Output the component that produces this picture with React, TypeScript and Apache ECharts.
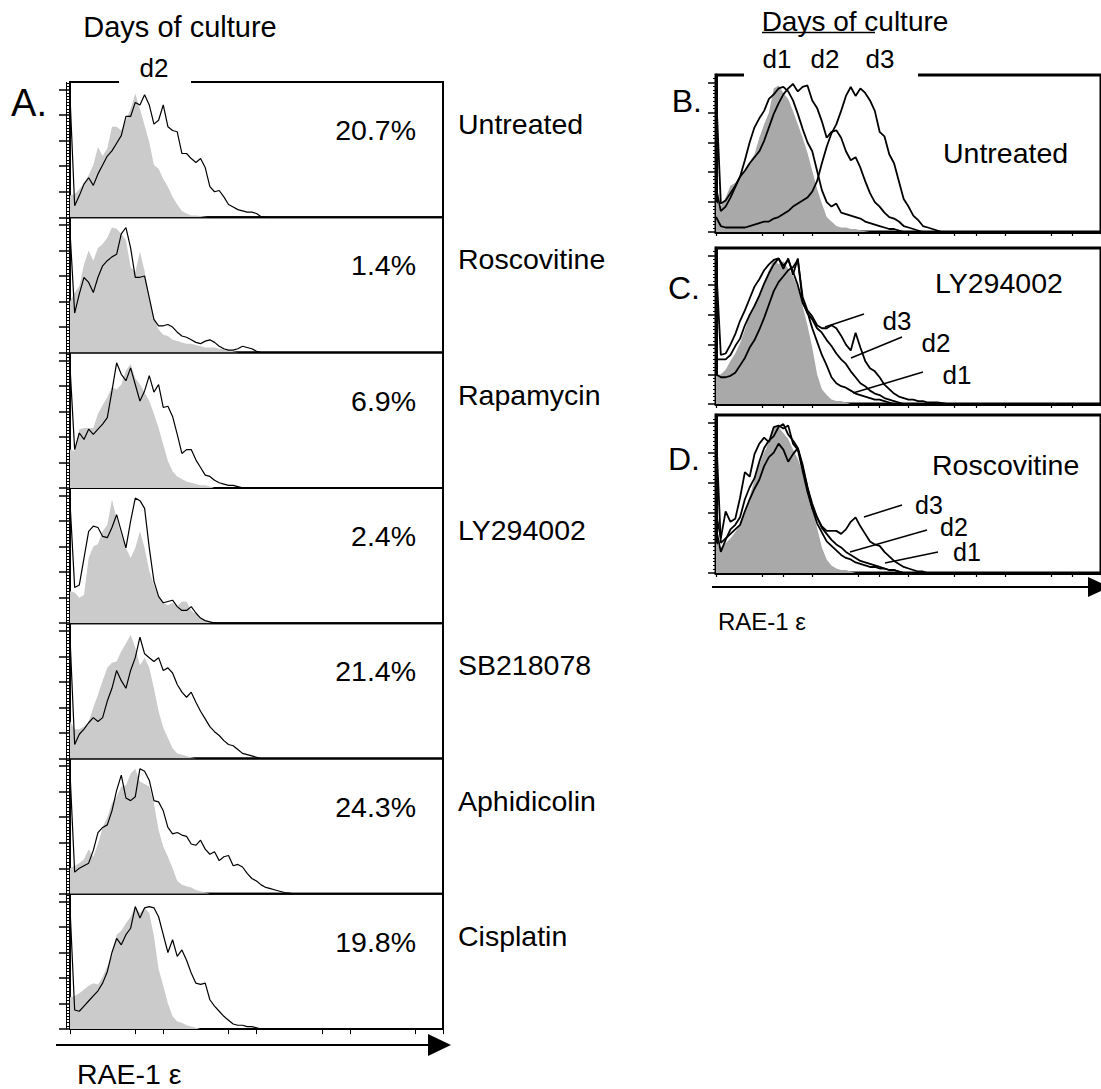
import React, { useEffect, useRef } from "react";
import * as echarts from "echarts";

// ---------- data ----------
const STEP = 0.05; // channel width in decades (log10 units)
const Y_TICKS = [0, 20, 40, 60, 80, 100];
const X_TICKS_A = [0, 0.7, 1, 1.7, 2, 2.7, 3, 3.7, 4];
const X_TICKS_R = [0, 0.48, 0.7, 1, 1.48, 1.7, 2, 2.48, 2.7, 3, 3.48, 3.7, 4];

const A_LABELS = ["Untreated", "Roscovitine", "Rapamycin", "LY294002", "SB218078", "Aphidicolin", "Cisplatin"];
const A_PERCENTS = ["20.7%", "1.4%", "6.9%", "2.4%", "21.4%", "24.3%", "19.8%"];

const untreatedBlack = [95, 9, 17, 26, 31, 25, 34, 41, 48, 52, 58, 64, 79, 79, 90, 88, 96, 88, 73, 76, 88, 71, 68, 67, 50, 50, 46, 43, 46, 39, 24, 20, 21, 16, 10, 8, 6, 5, 4, 4, 3, 0.5, 0];
const untreatedGray = [17, 18, 22, 27, 33, 41, 55, 48, 54, 71, 71, 68, 76, 85, 97, 85, 72, 59, 41, 38, 30, 24, 16, 10, 5, 3, 1.5, 1.5, 1, 0.5, 0];
const roscovitineBlack = [95, 31, 46, 59, 55, 47, 59, 68, 72, 75, 77, 93, 98, 82, 59, 59, 60, 43, 26, 21, 21, 22, 20, 16, 13, 12, 10, 8, 7, 9, 10, 8, 5, 3, 2, 2, 3, 5, 4, 3, 1, 0];
const roscovitineGray = [40, 47, 52, 69, 80, 72, 82, 85, 90, 98, 97, 93, 88, 67, 63, 79, 64, 43, 27, 18, 14, 13, 10, 9, 8, 7, 7, 6, 5, 4, 4, 4, 3, 3, 2, 1, 0];
const rapamycinBlack = [95, 30, 43, 38, 46, 42, 46, 50, 55, 76, 98, 89, 84, 94, 81, 68, 76, 88, 75, 81, 63, 64, 56, 42, 27, 30, 30, 22, 16, 10, 9, 6, 4, 3, 2, 2, 1, 0];
const rapamycinGray = [30, 29, 46, 47, 47, 47, 58, 65, 71, 79, 77, 81, 92, 97, 86, 81, 75, 68, 58, 47, 34, 21, 13, 9, 7, 5, 4, 3, 2, 2, 1, 0];
const lyBlack = [95, 28, 30, 51, 72, 76, 75, 68, 67, 75, 85, 72, 59, 80, 98, 96, 90, 59, 33, 21, 16, 17, 18, 13, 10, 10, 13, 8, 4, 2, 1, 0];
const lyGray = [25, 24, 20, 22, 51, 60, 62, 72, 77, 97, 82, 69, 59, 51, 59, 72, 59, 41, 30, 21, 16, 14, 16, 13, 17, 17, 10, 7, 4, 2, 1, 0];
const sbBlack = [95, 11, 19, 23, 28, 32, 29, 32, 45, 55, 69, 61, 55, 69, 79, 95, 82, 79, 76, 79, 69, 71, 67, 58, 52, 48, 52, 44, 37, 31, 25, 21, 18, 14, 11, 10, 7, 4, 3, 2, 1, 0];
const sbGray = [29, 23, 23, 25, 29, 40, 50, 61, 71, 75, 76, 84, 90, 97, 87, 73, 79, 71, 55, 37, 24, 16, 8, 4, 3, 2, 1, 0];
const aphidicolinBlack = [95, 17, 20, 22, 24, 34, 48, 52, 54, 65, 81, 93, 75, 73, 76, 98, 96, 89, 73, 72, 65, 52, 47, 48, 46, 45, 39, 38, 42, 35, 31, 33, 26, 29, 30, 22, 23, 21, 16, 12, 10, 7, 5, 4, 3, 2, 1, 0.5, 0];
const aphidicolinGray = [20, 22, 24, 27, 35, 29, 39, 52, 60, 71, 76, 84, 85, 94, 98, 88, 86, 84, 71, 50, 37, 29, 20, 10, 7, 6, 5, 3, 2, 1, 0];
const cisplatinBlack = [95, 15, 14, 18, 22, 26, 30, 36, 45, 60, 71, 66, 74, 79, 96, 87, 95, 96, 95, 88, 74, 60, 70, 57, 62, 54, 44, 36, 35, 36, 23, 18, 14, 10, 7, 4, 3, 3, 2, 2, 1, 0];
const cisplatinGray = [25, 26, 28, 31, 34, 36, 35, 41, 49, 57, 74, 77, 83, 88, 96, 91, 95, 91, 73, 47, 34, 20, 10, 6, 5, 3, 2, 1, 0];

const A_BLACK = [untreatedBlack, roscovitineBlack, rapamycinBlack, lyBlack, sbBlack, aphidicolinBlack, cisplatinBlack];
const A_GRAY = [untreatedGray, roscovitineGray, rapamycinGray, lyGray, sbGray, aphidicolinGray, cisplatinGray];

const R_LABELS = ["Untreated", "LY294002", "Roscovitine"];
const R_LETTERS = ["B.", "C.", "D."];
const DAY_NAMES = ["d1", "d2", "d3"];

const bGray = [20, 17, 23, 31, 33, 37, 41, 47, 52, 63, 72, 80, 96, 98, 93, 89, 81, 72, 63, 53, 41, 29, 19, 10, 7, 4, 3, 3, 2, 2, 1, 0.5, 0];
const bD1 = [95, 19, 21, 26, 31, 37, 48, 60, 70, 76, 81, 89, 92, 96, 97, 94, 88, 79, 69, 60, 54, 41, 28, 20, 17, 19, 13, 12, 11, 10, 9, 7, 6, 5, 4, 3, 2, 2, 1, 0];
const bD2 = [30, 14, 17, 23, 30, 37, 41, 46, 50, 54, 61, 70, 79, 86, 92, 96, 99, 94, 97, 98, 88, 83, 74, 63, 67, 68, 63, 54, 48, 50, 43, 34, 26, 20, 17, 13, 10, 9, 7, 4, 3, 2, 1, 0];
const bD3 = [10, 4, 3, 3, 3, 3, 3, 4, 5, 6, 7, 7, 9, 10, 12, 14, 17, 19, 21, 23, 27, 34, 46, 57, 66, 72, 81, 91, 97, 91, 96, 93, 88, 81, 67, 64, 52, 46, 34, 22, 17, 11, 8, 4, 3, 2, 1, 0];

const cGray = [19, 20, 23, 29, 34, 41, 50, 60, 67, 74, 82, 90, 98, 94, 96, 91, 86, 78, 66, 53, 38, 20, 10, 6, 3, 2, 2, 1, 0];
const cD1 = [95, 33, 34, 40, 47, 56, 63, 71, 79, 84, 90, 94, 97, 98, 93, 97, 89, 80, 68, 62, 51, 42, 33, 26, 18, 14, 12, 11, 9, 7, 6, 5, 4, 3, 3, 2, 1, 0];
const cD2 = [30, 30, 30, 33, 39, 44, 53, 60, 66, 73, 81, 88, 94, 98, 91, 98, 87, 98, 69, 61, 57, 51, 48, 43, 39, 34, 30, 27, 22, 18, 14, 12, 9, 7, 6, 4, 3, 2, 1, 0];
const cD3 = [20, 18, 18, 19, 21, 26, 31, 38, 43, 50, 58, 67, 76, 82, 86, 90, 92, 97, 72, 63, 59, 53, 51, 51, 53, 51, 46, 40, 36, 48, 38, 29, 24, 22, 18, 13, 10, 7, 5, 4, 3, 3, 2, 2, 1, 1, 1, 0.5, 0];

const dGray = [20, 17, 20, 23, 27, 32, 40, 51, 62, 72, 80, 87, 97, 97, 93, 89, 82, 76, 67, 56, 43, 30, 17, 9, 5, 3, 2, 2, 1, 0];
const dD1 = [95, 20, 23, 26, 29, 32, 41, 49, 56, 62, 71, 77, 80, 86, 82, 74, 79, 83, 70, 57, 43, 33, 27, 21, 18, 15, 12, 10, 9, 7, 6, 5, 4, 4, 3, 3, 2, 2, 1, 0];
const dD2 = [30, 14, 22, 29, 32, 37, 49, 57, 63, 74, 83, 88, 91, 97, 99, 92, 88, 83, 72, 57, 46, 37, 30, 26, 22, 19, 17, 14, 12, 10, 8, 7, 6, 5, 4, 3, 2, 2, 1, 0];
const dD3 = [40, 23, 41, 34, 36, 50, 67, 64, 79, 86, 90, 87, 97, 98, 96, 98, 86, 82, 68, 54, 43, 37, 31, 28, 28, 28, 26, 29, 34, 37, 31, 26, 21, 19, 18, 14, 11, 8, 6, 4, 3, 2, 1, 1, 0];

const R_GRAY = [bGray, cGray, dGray];
const R_DAYS = [
  [bD1, bD2, bD3],
  [cD1, cD2, cD3],
  [dD1, dD2, dD3],
];

// ---------- layout ----------
const FONT = '"Liberation Sans", Arial, Helvetica, sans-serif';
const A_LEFT = 70;
const A_WIDTH = 373;
const A_TOP = 82;
const A_H = 135.3;
const R_LEFT = 716;
const R_WIDTH = 388;
const R_TOPS = [75, 248, 415];
const R_HS = [157, 156, 158];

const toXY = (arr: number[]) => arr.map((v, k) => [k * STEP, v]);

function txt(x: number, y: number, s: string, size: number, align = "left") {
  return {
    type: "text",
    x,
    y,
    z: 100,
    silent: true,
    style: {
      text: s,
      font: `${size}px ${FONT}`,
      fill: "#000",
      textAlign: align,
      textVerticalAlign: "middle",
      align,
      verticalAlign: "middle",
    },
  };
}

function seg(x1: number, y1: number, x2: number, y2: number, w: number) {
  return {
    type: "line",
    z: 100,
    silent: true,
    shape: { x1, y1, x2, y2 },
    style: { stroke: "#000", lineWidth: w },
  };
}

function buildOption() {
  const grid: any[] = [];
  const xAxis: any[] = [];
  const yAxis: any[] = [];
  const series: any[] = [];
  const graphic: any[] = [];

  // Panel A
  for (let i = 0; i < 7; i++) {
    const top = A_TOP + i * A_H;
    grid.push({ left: A_LEFT, top, width: A_WIDTH, height: A_H, show: true, borderColor: "#000", borderWidth: 2, backgroundColor: "transparent" });
    xAxis.push({
      gridIndex: i, type: "value", min: 0, max: 4,
      axisLine: { show: false },
      axisTick: i === 6 ? { show: true, customValues: X_TICKS_A, length: 5, lineStyle: { color: "#000", width: 1 } } : { show: false },
      axisLabel: { show: false }, splitLine: { show: false },
    });
    yAxis.push({
      gridIndex: i, type: "value", min: 0, max: 106, interval: 20,
      axisLine: { show: true, lineStyle: { color: "#000", width: 2 } },
      axisTick: { show: true, customValues: Y_TICKS, length: 11, lineStyle: { color: "#000", width: 1.5 } },
      minorTick: { show: true, splitNumber: 8, length: 4, lineStyle: { color: "#000", width: 1 } },
      axisLabel: { show: false }, splitLine: { show: false },
    });
    series.push({
      type: "line", xAxisIndex: i, yAxisIndex: i, data: toXY(A_GRAY[i]), symbol: "none", silent: true, z: 2,
      lineStyle: { width: 0, opacity: 0 }, areaStyle: { color: "#cbcbcb", opacity: 1 },
    });
    series.push({
      type: "line", xAxisIndex: i, yAxisIndex: i, data: toXY(A_BLACK[i]), symbol: "none", silent: true, z: 3,
      lineStyle: { color: "#000", width: 1.2 },
    });
    graphic.push(txt(416, top + 48, A_PERCENTS[i], 28.5, "right"));
    graphic.push(txt(458, top + 42, A_LABELS[i], 28.5, "left"));
  }

  // Panels B, C, D
  for (let j = 0; j < 3; j++) {
    const gi = 7 + j;
    grid.push({ left: R_LEFT, top: R_TOPS[j], width: R_WIDTH, height: R_HS[j], show: true, borderColor: "#000", borderWidth: 3, backgroundColor: "transparent" });
    xAxis.push({
      gridIndex: gi, type: "value", min: 0, max: 4,
      axisLine: { show: true, lineStyle: { color: "#000", width: 3 } },
      axisTick: { show: true, customValues: X_TICKS_R, length: 4, lineStyle: { color: "#000", width: 1.2 } },
      axisLabel: { show: false }, splitLine: { show: false },
    });
    yAxis.push({
      gridIndex: gi, type: "value", min: 0, max: 105, interval: 20,
      axisLine: { show: true, lineStyle: { color: "#000", width: 3 } },
      axisTick: { show: true, customValues: Y_TICKS, length: 8, lineStyle: { color: "#000", width: 1.5 } },
      minorTick: { show: true, splitNumber: 8, length: 3, lineStyle: { color: "#000", width: 1 } },
      axisLabel: { show: false }, splitLine: { show: false },
    });
    series.push({
      type: "line", xAxisIndex: gi, yAxisIndex: gi, data: toXY(R_GRAY[j]), symbol: "none", silent: true, z: 2,
      lineStyle: { width: 0, opacity: 0 }, areaStyle: { color: "#a9a9a9", opacity: 1 },
    });
    R_DAYS[j].forEach((d, k) => {
      series.push({
        type: "line", name: DAY_NAMES[k], xAxisIndex: gi, yAxisIndex: gi, data: toXY(d), symbol: "none", silent: true, z: 3,
        lineStyle: { color: "#000", width: 1.8 },
      });
    });
  }

  // gaps in the top frames for the day labels
  graphic.push({ type: "rect", z: 99, silent: true, shape: { x: 119, y: 78, width: 72, height: 8 }, style: { fill: "#fff" } });
  graphic.push({ type: "rect", z: 99, silent: true, shape: { x: 744, y: 71, width: 174, height: 9 }, style: { fill: "#fff" } });

  // Panel A decorations
  graphic.push(seg(66.5, A_TOP, 66.5, A_TOP + 7 * A_H, 1));
  graphic.push(txt(180, 27, "Days of culture", 29, "center"));
  graphic.push(txt(154, 68, "d2", 26, "center"));
  graphic.push(txt(29, 103, "A.", 38, "center"));
  graphic.push(seg(56, 1045, 432, 1045, 2));
  graphic.push({ type: "polygon", z: 100, silent: true, shape: { points: [[428, 1034], [451, 1045], [428, 1056]] }, style: { fill: "#000" } });
  graphic.push(txt(77, 1074, "RAE-1 ε", 28.5, "left"));

  // Panels B-D decorations
  graphic.push(txt(855, 21, "Days of culture", 28, "center"));
  graphic.push(seg(762, 32.5, 875, 32.5, 1.5));
  graphic.push(txt(777, 59, "d1", 26, "center"));
  graphic.push(txt(825, 59, "d2", 26, "center"));
  graphic.push(txt(880, 59, "d3", 26, "center"));
  graphic.push(txt(702, 101, R_LETTERS[0], 32, "right"));
  graphic.push(txt(700, 288, R_LETTERS[1], 32, "right"));
  graphic.push(txt(700, 459, R_LETTERS[2], 32, "right"));
  graphic.push(txt(943, 153, R_LABELS[0], 28.5, "left"));
  graphic.push(txt(935, 283, R_LABELS[1], 28.5, "left"));
  graphic.push(txt(932, 465, R_LABELS[2], 28.5, "left"));

  // day annotations C
  graphic.push(txt(897, 321, "d3", 26, "center"));
  graphic.push(txt(936, 343, "d2", 26, "center"));
  graphic.push(txt(957, 375, "d1", 26, "center"));
  graphic.push(seg(825, 327, 864, 314, 1.5));
  graphic.push(seg(851, 358, 902, 337, 1.5));
  graphic.push(seg(853, 393, 923, 372, 1.5));
  // day annotations D
  graphic.push(txt(929, 505, "d3", 25, "center"));
  graphic.push(txt(954, 527, "d2", 25, "center"));
  graphic.push(txt(967, 552, "d1", 25, "center"));
  graphic.push(seg(864, 517, 902, 505, 1.5));
  graphic.push(seg(850, 552, 927, 530, 1.5));
  graphic.push(seg(885, 563, 938, 552, 1.5));

  graphic.push(seg(712, 587, 1092, 587, 2));
  graphic.push({ type: "polygon", z: 100, silent: true, shape: { points: [[1088, 577], [1110, 587], [1088, 597]] }, style: { fill: "#000" } });
  graphic.push(txt(718, 621, "RAE-1 ε", 24, "left"));

  return {
    animation: false,
    backgroundColor: "#fff",
    grid,
    xAxis,
    yAxis,
    series,
    graphic,
  };
}

export default function App() {
  const ref = useRef<HTMLDivElement>(null);
  useEffect(() => {
    if (!ref.current) return;
    const chart = echarts.init(ref.current, null, { renderer: "svg" });
    chart.setOption(buildOption() as any);
    return () => chart.dispose();
  }, []);
  return (
    <div
      ref={ref}
      style={{ position: "fixed", left: 0, top: 0, width: 1101, height: 1089, background: "#fff" }}
    />
  );
}
